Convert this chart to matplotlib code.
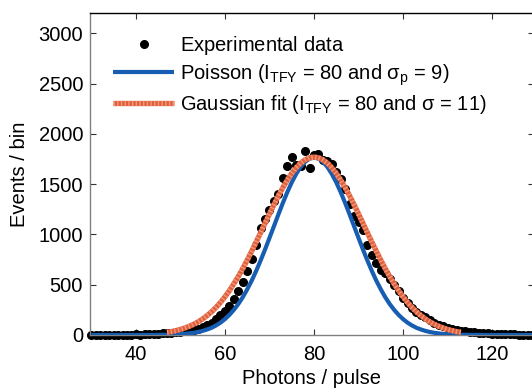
import numpy as np
import matplotlib
matplotlib.use('Agg')
import matplotlib.pyplot as plt

plt.rcParams.update({'font.size': 14.5,
                     'font.family': 'Liberation Sans',
                     'mathtext.fontset': 'custom',
                     'mathtext.rm': 'Liberation Sans',
                     'mathtext.it': 'Liberation Sans',
                     'mathtext.bf': 'Liberation Sans:bold'})

# experimental histogram, one value per photon number (30 .. 130)
photons = list(range(30, 131))
events = [2, 1, 2, 1, 2, 3, 2, 3, 4, 3, 5, 4, 6, 7, 9,
          12, 15, 18, 22, 26, 30, 36, 42, 52, 60, 75, 95, 120, 155, 195,
          235, 290, 360, 440, 530, 640, 760, 900, 1060, 1150,
          1240, 1330, 1400, 1560, 1680, 1770, 1690, 1680, 1830, 1660,
          1790, 1800, 1745, 1730, 1700, 1620, 1550, 1450, 1300, 1180,
          1120, 1040, 900, 800, 720, 650, 620, 560, 500, 440,
          370, 320, 270, 230, 200, 180, 150, 120, 100, 88,
          70, 55, 48, 40, 35, 30, 25, 20, 18, 15,
          12, 10, 9, 8, 6, 5, 4, 4, 3, 2, 2]

# Poisson curve (I_TFY = 80, sigma_p = 9)
poisson_x = list(range(30, 131))
poisson_y = [0] * 15 + [1, 2, 2, 4, 5, 8, 11, 16, 22, 30,
             41, 55, 72, 95, 123, 158, 200, 250, 308, 376,
             454, 540, 636, 740, 850, 965, 1082, 1199, 1313, 1420,
             1518, 1602, 1672, 1723, 1754, 1765, 1754, 1723, 1672, 1602,
             1518, 1420, 1313, 1199, 1082, 965, 850, 740, 636, 540,
             454, 376, 308, 250, 200, 158, 123, 95, 72, 55,
             41, 30, 22, 16, 11, 8, 5, 4, 2, 2,
             1, 1, 1] + [0] * 13

# Gaussian fit (I_TFY = 80, sigma = 11), drawn between 47 and 113
gauss_x = list(range(47, 114))
gauss_y = [27, 34, 44, 55, 70, 87, 107, 131, 160, 193,
           231, 275, 324, 380, 441, 509, 582, 661, 745, 833,
           924, 1017, 1111, 1205, 1296, 1384, 1466, 1541, 1608, 1664,
           1710, 1743, 1763, 1770, 1763, 1743, 1710, 1664, 1608, 1541,
           1466, 1384, 1296, 1205, 1111, 1017, 924, 833, 745, 661,
           582, 509, 441, 380, 324, 275, 231, 193, 160, 131,
           107, 87, 70, 55, 44, 34, 27]

fig = plt.figure(figsize=(5.32, 3.91), dpi=100)
ax = fig.add_axes([90 / 532, 56 / 391, 444 / 532, 321.7 / 391])

dots, = ax.plot(photons, events, 'o', color='black', markersize=5.5,
                clip_on=False, zorder=2)
blue, = ax.plot(poisson_x, poisson_y, color='#175db2', lw=3.0, zorder=3,
                solid_capstyle='butt')
red1, = ax.plot(gauss_x, gauss_y, color='#e0603c', lw=3.8, zorder=4,
                solid_capstyle='butt')
red2, = ax.plot(gauss_x, gauss_y, color='#f29a7c', lw=3.8, zorder=5,
                dashes=(0.25, 0.45))

ax.set_xlim(29.7, 129.4)
ax.set_ylim(0, 3200)
ax.set_xticks([40, 60, 80, 100, 120])
ax.set_yticks([0, 500, 1000, 1500, 2000, 2500, 3000])
ax.tick_params(axis='x', direction='in', top=True, length=4, pad=7, colors='#333333', labelcolor='black')
ax.tick_params(axis='y', direction='in', right=True, length=4, pad=5, colors='#333333', labelcolor='black')
ax.spines['left'].set_color('#808080')
ax.spines['bottom'].set_color('#808080')
ax.spines['top'].set_color('black')
for s in ax.spines.values():
    s.set_linewidth(1.0)

ax.set_xlabel('Photons / pulse', labelpad=4)
ax.set_ylabel('Events / bin', labelpad=7)

ax.legend([dots, blue, (red1, red2)],
          [r'Experimental data$_{\mathrm{\ }}$',
           r'Poisson (I$_{\mathrm{TFY}}$ = 80 and σ$_{\mathrm{p}}$ = 9)',
           r'Gaussian fit (I$_{\mathrm{TFY}}$ = 80 and σ = 11)'],
          loc='upper left', bbox_to_anchor=(23 / 444, 0.937), frameon=False,
          borderpad=0, borderaxespad=0, handlelength=3.05, handletextpad=0.3,
          labelspacing=0.28, numpoints=1)

fig.savefig('out.png', dpi=100)
